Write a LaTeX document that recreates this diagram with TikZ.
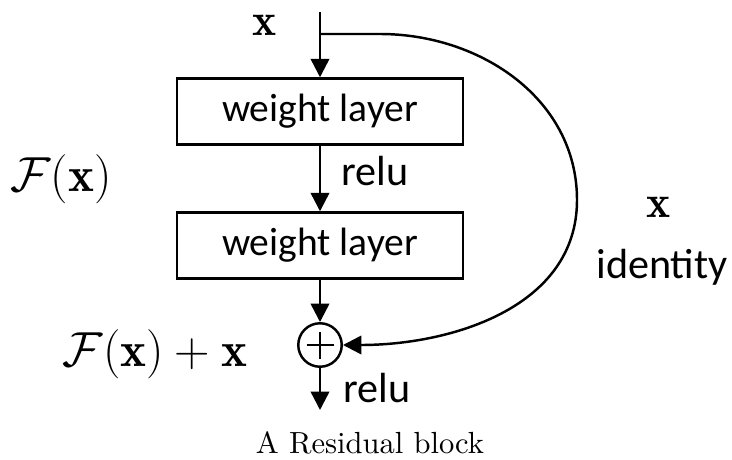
\RequirePackage{fix-cm}
\documentclass[tikz,border=0pt]{standalone}
\usepackage{amsmath, amssymb}
\usepackage{fontspec}
\newfontfamily\layerfont{Carlito}
\newfontfamily\capfont{lmroman10-regular}[Extension=.otf]
\usepackage{tikz}
\usetikzlibrary{arrows.meta, positioning}

\begin{document}
\begin{tikzpicture}[x=0.02cm, y=-0.02cm, line width=1.4pt,
    >={Triangle[length=3.7mm, width=3.7mm]},
    layer/.style={draw, minimum width=5.72cm, minimum height=1.32cm, inner sep=0pt,
        font=\layerfont\fontsize{22.5}{26}\selectfont},
    lbl/.style={inner sep=0pt, font=\layerfont\fontsize{24}{28}\selectfont},
    mathlbl/.style={inner sep=0pt, font=\fontsize{28}{32}\selectfont}]

    % =================================================================
    % 1. KHUNG HINH (giu ty le 732 x 459)
    % =================================================================
    \useasboundingbox (0,0) rectangle (732,459);

    % =================================================================
    % 2. CAC LOP VA NUT CONG
    % =================================================================
    \node[layer] (wl1) at (320,111.5) {weight layer};
    \node[layer] (wl2) at (320,245.5) {weight layer};
    \node[draw, circle, minimum size=0.87cm, inner sep=0pt] (add) at (320,345) {};
    \draw ([xshift=-0.27cm]add.center) -- ([xshift=0.27cm]add.center);
    \draw ([yshift=-0.27cm]add.center) -- ([yshift=0.27cm]add.center);

    \coordinate (in) at (320,12);
    \coordinate (br) at (320,34);
    \coordinate (bend) at (577,200);
    \coordinate (out) at (320,410);

    % =================================================================
    % 3. MUI TEN VA DUONG TAT (identity)
    % =================================================================
    \draw[->] (in) -- (wl1.north);
    \draw[->] (wl1) -- (wl2);
    \draw[->] (wl2) -- (add);
    \draw[->] (add) -- (out);
    \draw[->] (br) -- ++(60,0) to[out=0, in=90] (bend) to[out=-90, in=0] (add.east);

    % =================================================================
    % 4. CHU THICH
    % =================================================================
    \node[mathlbl, font=\fontsize{26}{30}\selectfont] (xin) at (265,25) {$\mathbf{x}$};
    \node[mathlbl] (fx) at (61,179) {$\mathcal{F}(\mathbf{x})$};
    \node[mathlbl] (fxx) at (155,354) {$\mathcal{F}(\mathbf{x}) + \mathbf{x}$};
    \node[mathlbl, font=\fontsize{26}{30}\selectfont] (xid) at (659,207) {$\mathbf{x}$};
    \node[lbl, anchor=base] (idt) at (662,278) {identity};
    \node[lbl, anchor=base west] (relu1) at (340,185) {relu};
    \node[lbl, anchor=base west] (relu2) at (342,402) {relu};
    \node[inner sep=0pt, anchor=base, font=\capfont\fontsize{17.4}{20}\selectfont] (cap) at (370,453) {A Residual block};

\end{tikzpicture}
\end{document}
